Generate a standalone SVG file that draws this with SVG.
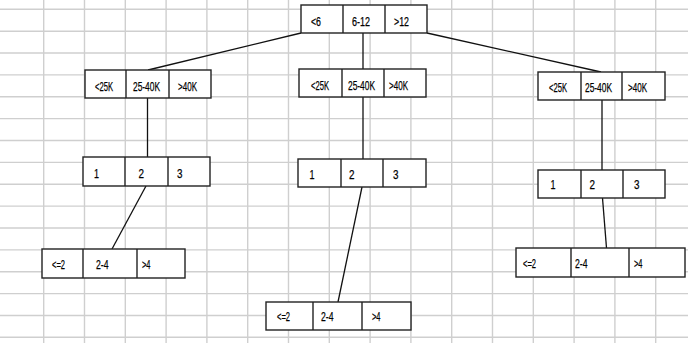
<svg xmlns="http://www.w3.org/2000/svg" width="688" height="349" viewBox="0 0 688 349">
<style>
.grid line{stroke:#cfcfcf;stroke-width:1.4}
.box rect{fill:#fff;stroke:#222;stroke-width:1.4}
.box line{stroke:#222;stroke-width:1.4}
text{font-family:"Liberation Sans",Arial,sans-serif;font-size:13px;fill:#000;stroke:#000;stroke-width:0.25}
.conn line{stroke:#111;stroke-width:1.3}
</style>
<rect width="688" height="349" fill="#fff"/>
<g class="grid">
<line x1="0" y1="9.3" x2="688" y2="9.3"/><line x1="0" y1="31.2" x2="688" y2="31.2"/><line x1="0" y1="53" x2="688" y2="53"/><line x1="0" y1="74.9" x2="688" y2="74.9"/><line x1="0" y1="96.8" x2="688" y2="96.8"/><line x1="0" y1="118.6" x2="688" y2="118.6"/><line x1="0" y1="140.5" x2="688" y2="140.5"/><line x1="0" y1="162.4" x2="688" y2="162.4"/><line x1="0" y1="184.3" x2="688" y2="184.3"/><line x1="0" y1="206.1" x2="688" y2="206.1"/><line x1="0" y1="228" x2="688" y2="228"/><line x1="0" y1="249.9" x2="688" y2="249.9"/><line x1="0" y1="271.7" x2="688" y2="271.7"/><line x1="0" y1="293.6" x2="688" y2="293.6"/><line x1="0" y1="315.5" x2="688" y2="315.5"/><line x1="0" y1="337.3" x2="688" y2="337.3"/>
<line x1="43.7" y1="0" x2="43.7" y2="343"/><line x1="84.5" y1="0" x2="84.5" y2="343"/><line x1="125.3" y1="0" x2="125.3" y2="343"/><line x1="166.1" y1="0" x2="166.1" y2="343"/><line x1="206.9" y1="0" x2="206.9" y2="343"/><line x1="247.7" y1="0" x2="247.7" y2="343"/><line x1="288.5" y1="0" x2="288.5" y2="343"/><line x1="329.3" y1="0" x2="329.3" y2="343"/><line x1="370.1" y1="0" x2="370.1" y2="343"/><line x1="410.9" y1="0" x2="410.9" y2="343"/><line x1="451.7" y1="0" x2="451.7" y2="343"/><line x1="492.5" y1="0" x2="492.5" y2="343"/><line x1="533.3" y1="0" x2="533.3" y2="343"/><line x1="574.1" y1="0" x2="574.1" y2="343"/><line x1="614.9" y1="0" x2="614.9" y2="343"/><line x1="655.7" y1="0" x2="655.7" y2="343"/>
</g>
<g class="conn" id="connectors">
<line x1="301" y1="33" x2="148" y2="70"/>
<line x1="363" y1="33" x2="363" y2="69"/>
<line x1="427" y1="33" x2="601" y2="72"/>
<line x1="147.5" y1="98" x2="147.5" y2="157"/>
<line x1="363" y1="97" x2="363" y2="159"/>
<line x1="602" y1="100" x2="602" y2="170"/>
<line x1="146" y1="186" x2="112" y2="249"/>
<line x1="362" y1="187" x2="338" y2="302"/>
<line x1="602.5" y1="198" x2="606.5" y2="248"/>
</g>
<g class="box" id="root">
<rect x="301" y="5" width="126" height="28"/><line x1="343" y1="5" x2="343" y2="33"/><line x1="385" y1="5" x2="385" y2="33"/>
<text x="311" y="25.5" textLength="10" lengthAdjust="spacingAndGlyphs">&lt;6</text>
<text x="352" y="25.5" textLength="18" lengthAdjust="spacingAndGlyphs">6-12</text>
<text x="394" y="25.5" textLength="15" lengthAdjust="spacingAndGlyphs">&gt;12</text>
</g>
<g class="box" id="inc-left">
<rect x="85" y="70" width="126" height="28"/><line x1="126" y1="70" x2="126" y2="98"/><line x1="169" y1="70" x2="169" y2="98"/>
<text x="95" y="90.5" textLength="18" lengthAdjust="spacingAndGlyphs">&lt;25K</text>
<text x="133" y="90.5" textLength="27" lengthAdjust="spacingAndGlyphs">25-40K</text>
<text x="178" y="90.5" textLength="19" lengthAdjust="spacingAndGlyphs">&gt;40K</text>
</g>
<g class="box" id="inc-mid">
<rect x="299" y="69" width="127" height="28"/><line x1="342" y1="69" x2="342" y2="97"/><line x1="384" y1="69" x2="384" y2="97"/>
<text x="311" y="89.5" textLength="18" lengthAdjust="spacingAndGlyphs">&lt;25K</text>
<text x="348" y="89.5" textLength="27" lengthAdjust="spacingAndGlyphs">25-40K</text>
<text x="389" y="89.5" textLength="19" lengthAdjust="spacingAndGlyphs">&gt;40K</text>
</g>
<g class="box" id="inc-right">
<rect x="538" y="72" width="127" height="28"/><line x1="581" y1="72" x2="581" y2="100"/><line x1="622" y1="72" x2="622" y2="100"/>
<text x="549" y="91.5" textLength="18" lengthAdjust="spacingAndGlyphs">&lt;25K</text>
<text x="585" y="91.5" textLength="27" lengthAdjust="spacingAndGlyphs">25-40K</text>
<text x="628" y="91.5" textLength="19" lengthAdjust="spacingAndGlyphs">&gt;40K</text>
</g>
<g class="box" id="num-left">
<rect x="83" y="157" width="127" height="29"/><line x1="125" y1="157" x2="125" y2="186"/><line x1="168" y1="157" x2="168" y2="186"/>
<text x="94" y="178" textLength="5" lengthAdjust="spacingAndGlyphs">1</text>
<text x="138.5" y="178" textLength="5.5" lengthAdjust="spacingAndGlyphs">2</text>
<text x="177" y="178" textLength="5.5" lengthAdjust="spacingAndGlyphs">3</text>
</g>
<g class="box" id="num-mid">
<rect x="298" y="159" width="128" height="28"/><line x1="341" y1="159" x2="341" y2="187"/><line x1="383" y1="159" x2="383" y2="187"/>
<text x="309.5" y="179" textLength="5" lengthAdjust="spacingAndGlyphs">1</text>
<text x="349" y="179" textLength="5.5" lengthAdjust="spacingAndGlyphs">2</text>
<text x="393" y="179" textLength="5.5" lengthAdjust="spacingAndGlyphs">3</text>
</g>
<g class="box" id="num-right">
<rect x="538" y="170" width="127" height="28"/><line x1="581" y1="170" x2="581" y2="198"/><line x1="623" y1="170" x2="623" y2="198"/>
<text x="550.5" y="189" textLength="5" lengthAdjust="spacingAndGlyphs">1</text>
<text x="589.5" y="189" textLength="5.5" lengthAdjust="spacingAndGlyphs">2</text>
<text x="634" y="189" textLength="5.5" lengthAdjust="spacingAndGlyphs">3</text>
</g>
<g class="box" id="yrs-left">
<rect x="42" y="249" width="143" height="29"/><line x1="83" y1="249" x2="83" y2="278"/><line x1="137" y1="249" x2="137" y2="278"/>
<text x="52" y="269" textLength="13" lengthAdjust="spacingAndGlyphs">&lt;=2</text>
<text x="96" y="269" textLength="12.5" lengthAdjust="spacingAndGlyphs">2-4</text>
<text x="142" y="269" textLength="8.5" lengthAdjust="spacingAndGlyphs">&gt;4</text>
</g>
<g class="box" id="yrs-mid">
<rect x="266" y="302" width="145" height="28"/><line x1="313" y1="302" x2="313" y2="330"/><line x1="362" y1="302" x2="362" y2="330"/>
<text x="277" y="321" textLength="13" lengthAdjust="spacingAndGlyphs">&lt;=2</text>
<text x="321" y="321" textLength="12.5" lengthAdjust="spacingAndGlyphs">2-4</text>
<text x="372" y="321" textLength="8.5" lengthAdjust="spacingAndGlyphs">&gt;4</text>
</g>
<g class="box" id="yrs-right">
<rect x="516" y="248" width="169" height="29"/><line x1="571" y1="248" x2="571" y2="277"/><line x1="629" y1="248" x2="629" y2="277"/>
<text x="523" y="268" textLength="13" lengthAdjust="spacingAndGlyphs">&lt;=2</text>
<text x="575" y="268" textLength="12.5" lengthAdjust="spacingAndGlyphs">2-4</text>
<text x="634" y="268" textLength="8.5" lengthAdjust="spacingAndGlyphs">&gt;4</text>
</g>
</svg>
